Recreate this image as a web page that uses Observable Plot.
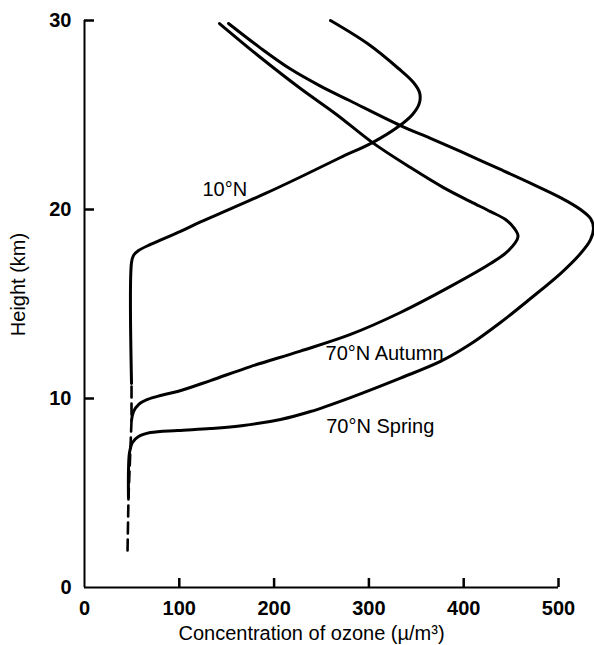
<!DOCTYPE html>
<html>
<head>
<meta charset="utf-8">
<script src="https://cdn.jsdelivr.net/npm/d3@7"></script>
<script src="https://cdn.jsdelivr.net/npm/@observablehq/plot@0.6"></script>
<style>
  html, body { margin: 0; padding: 0; background: #fff; }
  #chart svg { display: block; }
</style>
</head>
<body>
<div id="chart"></div>
<script>
// ---- data (concentration of ozone, height km) ----
const tenN_x = [49.6, 49.6, 51.7, 57, 69.6, 101.3, 122.4, 154, 190.9, 227.8, 270, 303.8, 331.2, 346, 353.4, 353.4, 347, 331.2, 298.5, 259.5];
const tenN_h = [10.8, 17.2, 17.57, 17.83, 18.15, 18.84, 19.34, 20.03, 20.85, 21.72, 22.75, 23.54, 24.39, 25.03, 25.66, 26.19, 26.72, 27.46, 28.78, 30.0];

const autumn_x = [49.6, 51.7, 57, 66.5, 80.2, 98.1, 132.9, 175.1, 227.8, 280.6, 333.3, 386.1, 428.3, 447.3, 457.3, 453.6, 444.1, 428.3, 407.2, 378.7, 343.9, 303.8, 265.8, 227.8, 185.7, 142.4];
const autumn_h = [8.84, 9.31, 9.68, 9.95, 10.16, 10.37, 10.95, 11.69, 12.51, 13.39, 14.55, 15.93, 17.14, 17.83, 18.57, 18.99, 19.47, 19.89, 20.42, 21.16, 22.22, 23.54, 25.03, 26.4, 28.04, 29.84];

const spring_x = [46.4, 46.4, 47.5, 50.6, 57, 69.6, 98.1, 132.9, 167.7, 206.8, 238.4, 280.6, 333.3, 375.5, 407.2, 438.8, 470.5, 502.1, 523.2, 533.8, 536.9, 533.8, 523.2, 502.1, 473.6, 438.8, 396.6, 365, 333.3, 280.6, 248.9, 217.3, 185.7, 151.9];
const spring_h = [4.76, 6.19, 7.14, 7.67, 7.99, 8.2, 8.31, 8.41, 8.57, 8.89, 9.31, 10.05, 11.08, 11.96, 12.88, 14.02, 15.29, 16.61, 17.67, 18.41, 19.0, 19.52, 20.0, 20.63, 21.32, 22.12, 23.07, 23.76, 24.44, 25.74, 26.53, 27.43, 28.54, 29.84];

const dashed_x = [45.4, 46.4, 49.6, 49.6];
const dashed_h = [1.96, 4.76, 8.84, 10.8];

const labels = ["10°N", "70°N Autumn", "70°N Spring"];
const label_x = [148, 316.5, 312];
const label_h = [21.1, 12.43, 8.57];

const xTickValues = [0, 100, 200, 300, 400, 500];
const yTickValues = [0, 10, 20, 30];
const xTickMarks = [100, 200, 300, 400, 500];
const yTickMarks = [10, 20, 30];

const xTitle = "Concentration of ozone (µ/m³)";
const yTitle = "Height (km)";

// ---- build tables ----
const toPts = (xs, hs) => xs.map((x, i) => ({x, h: hs[i]}));
const series = [toPts(tenN_x, tenN_h), toPts(autumn_x, autumn_h), toPts(spring_x, spring_h)];
const dashed = toPts(dashed_x, dashed_h);
const labelData = labels.map((t, i) => ({t, x: label_x[i], h: label_h[i]}));

const font = "'Liberation Sans', Arial, Helvetica, sans-serif";

const W = 594, H = 645, ML = 84, MR = 36, MT = 20, MB = 58;
const frameW = W - ML - MR, frameH = H - MT - MB;
const xDom = [0, 500], yDom = [0, 30];
// inward tick lengths (pixels) expressed in data units
const xTickLen = 9 * (yDom[1] - yDom[0]) / frameH;
const yTickLen = 10 * (xDom[1] - xDom[0]) / frameW;

const chart = Plot.plot({
  width: W,
  height: H,
  marginLeft: ML,
  marginRight: MR,
  marginTop: MT,
  marginBottom: MB,
  x: {domain: xDom},
  y: {domain: yDom},
  style: {fontFamily: font, background: "#fff", color: "#000", overflow: "visible"},
  marks: [
    // tick labels
    Plot.axisX(xTickValues, {tickSize: 0, tickPadding: 13, fontSize: 20, fontWeight: "bold", label: null}),
    Plot.axisY(yTickValues, {tickSize: 0, tickPadding: 13, fontSize: 20, fontWeight: "bold", label: null}),
    // axis lines
    Plot.ruleX([0], {y1: 0, y2: 30, stroke: "#000", strokeWidth: 2}),
    Plot.ruleY([0], {x1: 0, x2: 500, stroke: "#000", strokeWidth: 2}),
    // inward ticks
    Plot.ruleX(xTickMarks, {x: d => d, y1: 0, y2: xTickLen, stroke: "#000", strokeWidth: 2.5}),
    Plot.ruleY(yTickMarks, {y: d => d, x1: 0, x2: yTickLen, stroke: "#000", strokeWidth: 2.5}),
    // dashed lower part
    Plot.line(dashed, {x: "x", y: "h", stroke: "#000", strokeWidth: 2.6, strokeDasharray: "11,6"}),
    // profiles
    ...series.map(s => Plot.line(s, {x: "x", y: "h", curve: "catmull-rom", stroke: "#000", strokeWidth: 3, strokeLinecap: "round", strokeLinejoin: "round"})),
    // curve labels
    Plot.text(labelData, {x: "x", y: "h", text: "t", fontSize: 20, fill: "#000", textAnchor: "middle", lineAnchor: "middle", dy: 1}),
    // axis titles
    Plot.text([xTitle], {frameAnchor: "bottom", dx: -10, dy: 38, lineAnchor: "top", fontSize: 20, fill: "#000", letterSpacing: 0.4}),
    Plot.text([yTitle], {frameAnchor: "left", rotate: -90, dx: -65.5, dy: -19.5, lineAnchor: "middle", textAnchor: "middle", fontSize: 20, fill: "#000", letterSpacing: 1.4})
  ]
});

document.getElementById("chart").appendChild(chart);
</script>
</body>
</html>
